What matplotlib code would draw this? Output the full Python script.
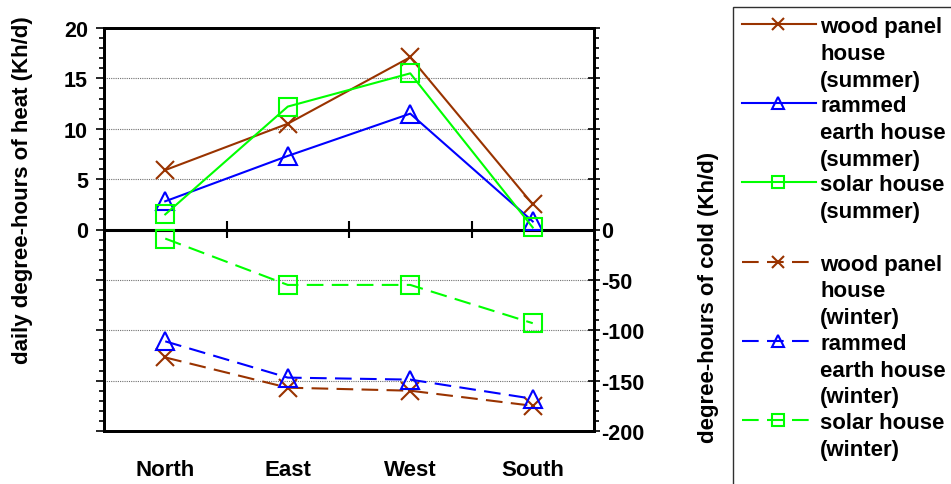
import numpy as np
import matplotlib
matplotlib.use("Agg")
import matplotlib.pyplot as plt
from matplotlib.ticker import FuncFormatter, MultipleLocator
from matplotlib.lines import Line2D
from matplotlib.patches import Rectangle

plt.rcParams['font.family'] = ['Liberation Sans', 'DejaVu Sans']
plt.rcParams['font.weight'] = 'bold'

# ---- data ----
categories = ["North", "East", "West", "South"]
wood_summer = [5.9, 10.5, 17.1, 2.5]
rammed_summer = [2.8, 7.3, 11.5, 0.8]
solar_summer = [1.5, 12.2, 15.5, 0.2]
wood_winter = [-127, -157, -160, -175]
rammed_winter = [-111, -147, -149, -168]
solar_winter = [-9, -55, -55, -93]

labels_summer = ["wood panel\nhouse\n(summer)", "rammed\nearth house\n(summer)", "solar house\n(summer)"]
labels_winter = ["wood panel\nhouse\n(winter)", "rammed\nearth house\n(winter)", "solar house\n(winter)"]
left_label = "daily degree-hours of heat (Kh/d)"
right_label = "degree-hours of cold (Kh/d)"

BROWN = "#993300"
BLUE = "#0000FF"
GREEN = "#00FF00"
colors = [BROWN, BLUE, GREEN]
markers = ["x", "^", "s"]

W, H = 951, 485
fig = plt.figure(figsize=(W / 100, H / 100), dpi=100)

def fx(px):
    return px / W

def fy(py):
    return 1 - py / H

ax_l, ax_r, ax_t, ax_b = 104, 594, 29, 432
ax = fig.add_axes([fx(ax_l), fy(ax_b), fx(ax_r - ax_l), (ax_b - ax_t) / H])
ax2 = ax.twinx()

x = np.arange(len(categories))
summer = [wood_summer, rammed_summer, solar_summer]
winter = [wood_winter, rammed_winter, solar_winter]

for vals, c, m in zip(summer, colors, markers):
    ax.plot(x, vals, color=c, lw=1.5, marker=m, ms=13, mew=1.5, mfc='none', mec=c, zorder=5)
for vals, c, m in zip(winter, colors, markers):
    ax2.plot(x, vals, color=c, lw=1.5, ls=(0, (8, 4)), marker=m, ms=13, mew=1.5,
             mfc='none', mec=c, zorder=5)

ax.set_xlim(-0.5, len(categories) - 0.5)
ax.set_ylim(-20, 20)
ax2.set_ylim(-200, 200)

# grid lines
for v in [-15, -10, -5, 5, 10, 15]:
    ax.axhline(v, color='#707070', lw=0.8, ls=(0, (1, 1)), zorder=1)
# zero line
ax.axhline(0, color='black', lw=2.2, zorder=3)
# category separator ticks on the zero line
ax.vlines(x[:-1] + 0.5, -0.8, 0.8, color='black', lw=1.5, zorder=3)

# x axis
ax.set_xticks(x)
ax.set_xticklabels(categories, fontsize=16, fontweight='bold')
ax.tick_params(axis='x', length=0, pad=20)

# left y axis
ax.yaxis.set_major_locator(MultipleLocator(5))
ax.yaxis.set_minor_locator(MultipleLocator(1))
ax.yaxis.set_major_formatter(FuncFormatter(lambda v, p: f"{v:.0f}" if v >= 0 else ""))
ax.tick_params(axis='y', which='major', length=5.5, width=1.2, direction='out', pad=6, labelsize=15.5)
ax.tick_params(axis='y', which='minor', length=3.5, width=1.2, direction='out')
for lab in ax.get_yticklabels():
    lab.set_fontweight('bold')

# right y axis
ax2.yaxis.set_major_locator(MultipleLocator(50))
ax2.yaxis.set_minor_locator(MultipleLocator(10))
ax2.yaxis.set_major_formatter(FuncFormatter(lambda v, p: f"{v:.0f}" if v <= 0 else ""))
ax2.tick_params(axis='y', which='major', length=8, width=1.2, direction='inout', pad=1, labelsize=15.5)
ax2.tick_params(axis='y', which='minor', length=3.5, width=1.2, direction='out')
for lab in ax2.get_yticklabels():
    lab.set_fontweight('bold')

for a in (ax, ax2):
    for s in a.spines.values():
        s.set_linewidth(2)
        s.set_color('black')

ax.set_ylabel(left_label, fontsize=16, fontweight='bold')
ax.yaxis.set_label_coords(-0.145, 0.60)
ax2.set_ylabel(right_label, fontsize=16, fontweight='bold')
ax2.yaxis.set_label_coords(1.212, 0.335)

# ---- manual legend ----
fig.add_artist(Rectangle((fx(733), fy(495)), fx(960 - 733), (495 - 8) / H,
                         transform=fig.transFigure, fill=False, edgecolor='#303030',
                         lw=1.0, clip_on=False))
entry_y0, entry_dy, line_dy = 25, 79.2, 26.8
all_labels = labels_summer + labels_winter
styles = ['-'] * 3 + [(0, (8, 4))] * 3
for i, (lab, ls) in enumerate(zip(all_labels, styles)):
    c = colors[i % 3]
    m = markers[i % 3]
    yy = entry_y0 + i * entry_dy
    fig.add_artist(Line2D([fx(742), fx(816)], [fy(yy), fy(yy)], transform=fig.transFigure,
                          color=c, lw=1.5, ls=ls))
    fig.add_artist(Line2D([fx(778)], [fy(yy)], transform=fig.transFigure, color=c,
                          marker=m, ms=9, mew=1.5, mfc='none', mec=c, ls='none'))
    for k, line in enumerate(lab.split("\n")):
        fig.text(fx(820), fy(yy + k * line_dy), line, fontsize=16, fontweight='bold',
                 ha='left', va='center_baseline', color='black')

fig.savefig("out.png", dpi=100)
